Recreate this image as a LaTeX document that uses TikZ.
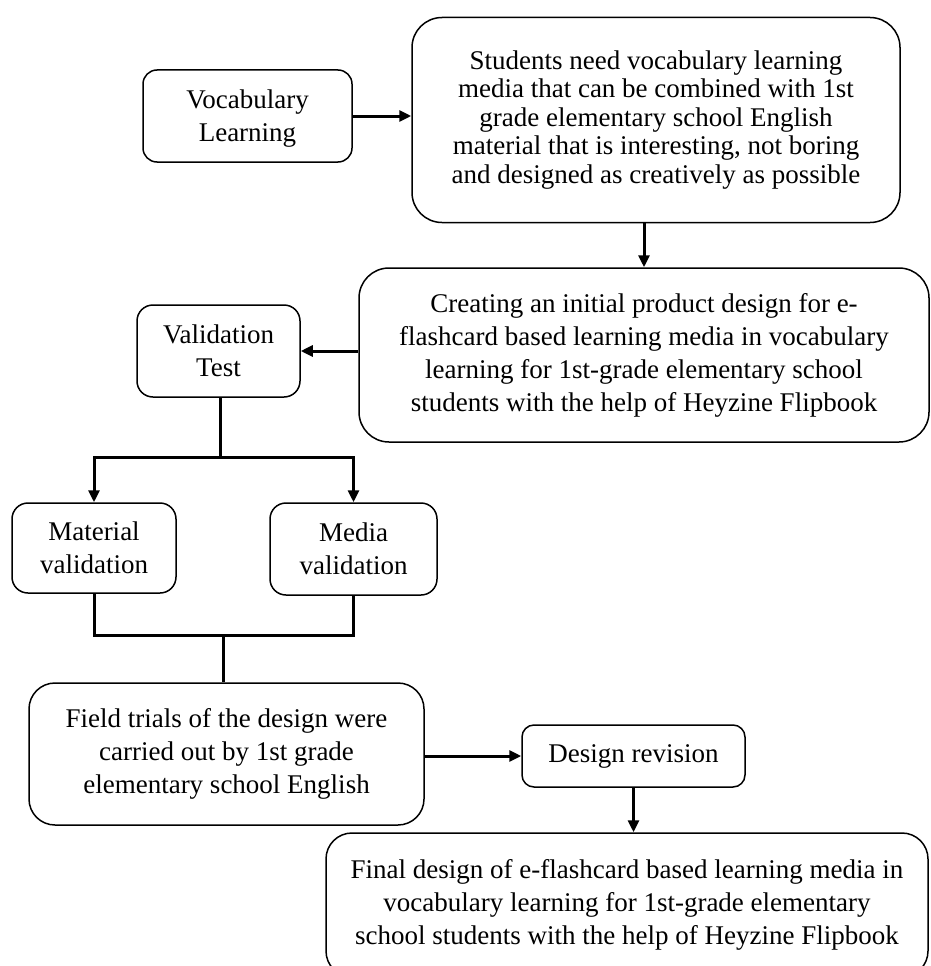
\documentclass[tikz,border=0pt]{standalone}
\usepackage{fontspec}
\setmainfont{Liberation Serif}
\usetikzlibrary{arrows.meta}
\begin{document}
\begin{tikzpicture}[x=1pt,y=-1pt,
  box/.style={draw, line width=1.5pt, rounded corners=#1, align=center, inner sep=0pt,
    font=\fontsize{27}{33}\selectfont},
  box/.default=14pt,
  low/.style={text depth=0pt},
  conn/.style={line width=3pt},
  arr/.style={line width=3pt, -{Triangle[length=12pt,width=11pt]}}]
\useasboundingbox (0,0) rectangle (931,966);
\clip (0,0) rectangle (931,966);

\node[box, low, minimum width=209pt, minimum height=92pt] (vocab) at (247.5,116) {Vocabulary\\Learning};
\node[box=30pt, minimum width=488pt, minimum height=205pt, font=\fontsize{27}{28.5}\selectfont] (need) at (656,120)
  {Students need vocabulary learning\\media that can be combined with 1st\\grade elementary school English\\material that is interesting, not boring\\and designed as creatively as possible};
\node[box=30pt, minimum width=570pt, minimum height=174pt] (create) at (644,355)
  {Creating an initial product design for e-\\flashcard based learning media in vocabulary\\learning for 1st-grade elementary school\\students with the help of Heyzine Flipbook};
\node[box=16pt, low, minimum width=163pt, minimum height=92pt] (valid) at (218.5,351) {Validation\\Test};
\node[box=16pt, low, minimum width=164pt, minimum height=90pt] (mat) at (94,548) {Material\\validation};
\node[box=16pt, low, minimum width=167pt, minimum height=92pt] (med) at (353.5,549) {Media\\validation};
\node[box=26pt, minimum width=395pt, minimum height=142pt] (field) at (226.5,754)
  {Field trials of the design were\\carried out by 1st grade\\elementary school English};
\node[box=12pt, minimum width=223pt, minimum height=62pt] (rev) at (633.5,756) {Design revision};
\node[box=26pt, minimum width=602pt, minimum height=144pt] (final) at (627,905)
  {Final design of e-flashcard based learning media in\\vocabulary learning for 1st-grade elementary\\school students with the help of Heyzine Flipbook};

\coordinate (split) at (220,457);
\coordinate (join) at (223,635);

\draw[arr] (vocab.east) -- (vocab.east -| need.west);
\draw[arr] (create.north |- need.south) -- (create.north);
\draw[arr] (valid.east -| create.west) -- (valid.east);
\draw[conn] (valid.south -| split) -- (split);
\draw[arr] (split) -| (mat.north);
\draw[arr] (split) -| (med.north);
\draw[conn] (mat.south) |- (join);
\draw[conn] (med.south) |- (join);
\draw[conn] (join) -- (field.north -| join);
\draw[arr] (field.east |- rev.west) -- (rev.west);
\draw[arr] (rev.south) -- (rev.south |- final.north);
\end{tikzpicture}
\end{document}
